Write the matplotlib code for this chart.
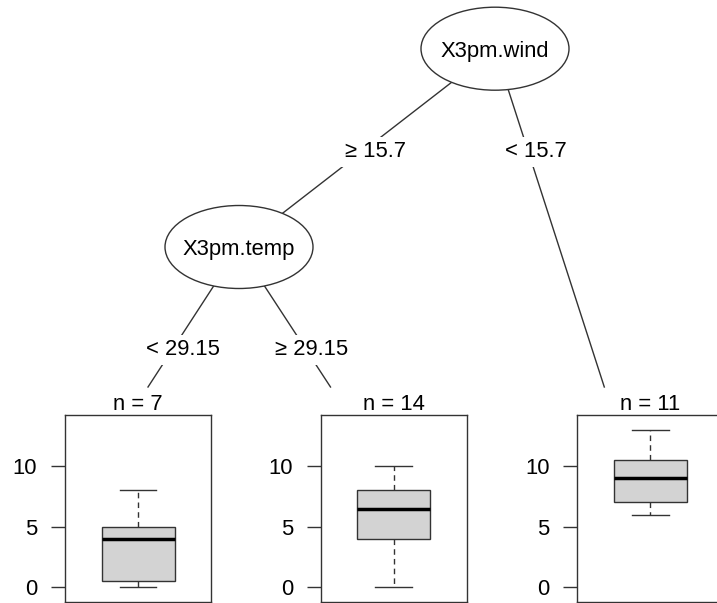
import matplotlib
matplotlib.use('Agg')
import matplotlib.pyplot as plt
from matplotlib.patches import Ellipse

plt.rcParams['font.family'] = ['Liberation Sans', 'DejaVu Sans']

W, H = 717, 603
FS = 15.8
LINE = '#333333'

# inner nodes
split_vars = ['X3pm.wind', 'X3pm.temp']
edge_labels = ['\u2265 15.7', '< 15.7', '< 29.15', '\u2265 29.15']

# terminal nodes (boxplot stats)
node_n = [7, 14, 11]
whislo = [0, 0, 6]
q1 = [0.5, 4, 7]
med = [4, 6.5, 9]
q3 = [5, 8, 10.5]
whishi = [8, 10, 13]
yticks = [0, 5, 10]

# layout in pixels
inner_xy = [(495, 48.7), (239, 247)]
ell_w, ell_h = 148, 83
edges = [  # (from, to point)
    ((495, 48.7), (239, 247)),
    ((495, 48.7), (604.3, 387)),
    ((239, 247), (148, 387)),
    ((239, 247), (330.5, 387)),
]
label_xy = [(375.8, 149.5), (535.5, 149.5), (183.3, 347.5), (312, 347.5)]
panel_left = [65, 320.7, 577.3]
panel_w = 146
panel_top, panel_bot = 414.7, 602.3
cap_half = 7.9

fig = plt.figure(figsize=(W / 100, H / 100), dpi=100)
ax = fig.add_axes([0, 0, 1, 1])
ax.set_xlim(0, W)
ax.set_ylim(H, 0)
ax.axis('off')

for (a, b) in edges:
    ax.plot([a[0], b[0]], [a[1], b[1]], color=LINE, lw=1, zorder=1)

for (x, y), name in zip(inner_xy, split_vars):
    ax.add_patch(Ellipse((x, y), ell_w, ell_h, facecolor='white',
                         edgecolor=LINE, lw=1, zorder=3))
    ax.text(x, y + cap_half, name, ha='center', va='baseline',
            fontsize=FS, zorder=4)

for (x, y), lab in zip(label_xy, edge_labels):
    ax.text(x, y + cap_half, lab, ha='center', va='baseline', fontsize=FS,
            zorder=4, bbox=dict(facecolor='white', edgecolor='none', pad=3))

for i in range(len(node_n)):
    cx = panel_left[i] + panel_w / 2
    ax.text(cx, 402.5 + cap_half, 'n = %d' % node_n[i], ha='center',
            va='baseline', fontsize=FS)
    pax = fig.add_axes([panel_left[i] / W, (H - panel_bot) / H,
                        panel_w / W, (panel_bot - panel_top) / H])
    stats = [dict(whislo=whislo[i], q1=q1[i], med=med[i], q3=q3[i],
                  whishi=whishi[i], fliers=[])]
    pax.bxp(stats, positions=[0], widths=0.5, capwidths=0.25,
            patch_artist=True, showfliers=False,
            boxprops=dict(facecolor='#D3D3D3', edgecolor=LINE, lw=1),
            medianprops=dict(color='black', lw=2.5),
            whiskerprops=dict(color=LINE, lw=1, linestyle=(0, (4, 3))),
            capprops=dict(color=LINE, lw=1))
    pax.set_xlim(-0.5, 0.5)
    pax.set_ylim(-1.3, 14.3)
    pax.set_xticks([])
    pax.set_yticks(yticks)
    pax.tick_params(axis='y', labelsize=FS, length=10, pad=10, width=1,
                    color=LINE)
    for s in pax.spines.values():
        s.set_color(LINE)
        s.set_linewidth(1)

fig.savefig('out.png', dpi=100)
